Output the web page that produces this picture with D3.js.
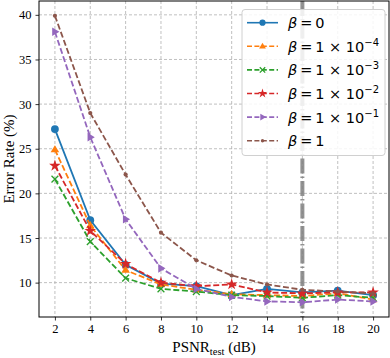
<!DOCTYPE html>
<html>
<head>
<meta charset="utf-8">
<script src="https://cdn.jsdelivr.net/npm/d3@7"></script>
<style>
  body { margin: 0; background: #fff; }
  svg text { fill: #000; }
</style>
</head>
<body>
<div id="chart"></div>
<script>
// PSNR_test values on x axis
const psnr = [2, 4, 6, 8, 10, 12, 14, 16, 18, 20];
const xTicks = [2, 4, 6, 8, 10, 12, 14, 16, 18, 20];
const yTicks = [10, 15, 20, 25, 30, 35, 40];

// error rate (%) for each beta
const beta0 = [27.2, 17.0, 12.0, 9.9, 9.6, 8.6, 9.3, 8.9, 9.1, 8.6];
const beta1e4 = [24.9, 16.4, 11.4, 9.8, 9.2, 8.7, 8.6, 8.5, 8.8, 8.1];
const beta1e3 = [21.6, 14.6, 10.5, 9.3, 9.0, 8.6, 8.5, 8.3, 8.6, 8.3];
const beta1e2 = [23.1, 15.8, 12.1, 10.0, 9.6, 9.8, 8.9, 8.8, 8.9, 8.9];
const beta1e1 = [38.1, 26.3, 17.1, 11.6, 9.3, 8.4, 7.9, 7.8, 8.1, 7.9];
const beta1 = [39.9, 29.0, 22.1, 15.6, 12.5, 10.8, 9.8, 9.2, 9.0, 8.8];

const series = [
    { values: beta0, color: '#1f77b4', marker: 'circle', dash: null, label: ['0'] },
    { values: beta1e4, color: '#ff7f0e', marker: 'triangle', dash: '6,2.6', label: ['1 × 10', '−4'] },
    { values: beta1e3, color: '#2ca02c', marker: 'x', dash: '6,2.6', label: ['1 × 10', '−3'] },
    { values: beta1e2, color: '#d62728', marker: 'star', dash: '6,2.6', label: ['1 × 10', '−2'] },
    { values: beta1e1, color: '#9467bd', marker: 'right', dash: '6,2.6', label: ['1 × 10', '−1'] },
    { values: beta1, color: '#8c564b', marker: 'dot', dash: '6,2.6', label: ['1'] },
];

const W = 390, H = 358;
const margin = { top: 1, right: 1, bottom: 41, left: 39 };
const width = W - margin.left - margin.right;
const height = H - margin.top - margin.bottom;

const svg = d3.select('#chart').append('svg')
    .attr('width', W).attr('height', H);
const g = svg.append('g')
    .attr('transform', `translate(${margin.left},${margin.top})`);

const x = d3.scaleLinear().domain([1.1, 20.9]).range([0, width]);
const y = d3.scaleLinear().domain([6.15, 41.55]).range([height, 0]);

// grid
g.append('g').selectAll('line').data(xTicks).join('line')
    .attr('x1', d => x(d)).attr('x2', d => x(d))
    .attr('y1', 0).attr('y2', height)
    .attr('stroke', '#b0b0b0').attr('stroke-width', 0.8).attr('stroke-dasharray', '3,2');
g.append('g').selectAll('line').data(yTicks).join('line')
    .attr('y1', d => y(d)).attr('y2', d => y(d))
    .attr('x1', 0).attr('x2', width)
    .attr('stroke', '#b0b0b0').attr('stroke-width', 0.8).attr('stroke-dasharray', '3,2');

// marker helpers
function drawMarker(sel, type, color, s) {
    if (type === 'circle') {
        sel.append('circle').attr('r', 3.9 * s).attr('fill', color);
    } else if (type === 'triangle') {
        const r = 4.5 * s;
        sel.append('path').attr('d', `M0,${-r}L${r * 0.95},${r * 0.6}L${-r * 0.95},${r * 0.6}Z`).attr('fill', color);
    } else if (type === 'right') {
        const r = 4.5 * s;
        sel.append('path').attr('d', `M${r},0L${-r * 0.6},${-r * 0.95}L${-r * 0.6},${r * 0.95}Z`).attr('fill', color);
    } else if (type === 'x') {
        const r = 3.4 * s;
        sel.append('path').attr('d', `M${-r},${-r}L${r},${r}M${-r},${r}L${r},${-r}`)
            .attr('stroke', color).attr('stroke-width', 1.3).attr('fill', 'none');
    } else if (type === 'star') {
        sel.append('path').attr('d', d3.symbol(d3.symbolStar, 42 * s * s)()).attr('fill', color);
    } else if (type === 'dot') {
        sel.append('circle').attr('r', 2.1 * s).attr('fill', color);
    }
}

const line = d3.line()
    .x((d, i) => x(psnr[i]))
    .y(d => y(d));

svg.append('clipPath').attr('id', 'clip')
    .append('rect').attr('width', width).attr('height', height);

const plot = g.append('g').attr('clip-path', 'url(#clip)');

// vertical dash-dot line at 16 dB
plot.append('line')
    .attr('x1', x(16)).attr('x2', x(16))
    .attr('y1', 0).attr('y2', height)
    .attr('stroke', '#808080').attr('stroke-width', 4)
    .attr('stroke-dasharray', '15,3,1.5,3')
    .attr('opacity', 0.85);

series.forEach(s => {
    plot.append('path')
        .datum(s.values)
        .attr('fill', 'none')
        .attr('stroke', s.color)
        .attr('stroke-width', 1.8)
        .attr('stroke-dasharray', s.dash)
        .attr('d', line);
    s.values.forEach((v, i) => {
        const m = plot.append('g').attr('transform', `translate(${x(psnr[i])},${y(v)})`);
        drawMarker(m, s.marker, s.color, 1);
    });
});

// axes
const xAxis = g.append('g')
    .attr('transform', `translate(0,${height})`)
    .call(d3.axisBottom(x).tickValues(xTicks).tickSize(3.5).tickPadding(4));
const yAxis = g.append('g')
    .call(d3.axisLeft(y).tickValues(yTicks).tickSize(3.5).tickPadding(4));
[xAxis, yAxis].forEach(a => {
    a.select('.domain').remove();
    a.selectAll('text').attr('font-family', 'Liberation Serif, serif').attr('font-size', 12.5);
    a.selectAll('line').attr('stroke', '#000').attr('stroke-width', 0.8);
});

g.append('rect').attr('width', width).attr('height', height)
    .attr('fill', 'none').attr('stroke', '#000').attr('stroke-width', 1);

// axis labels
svg.append('text')
    .attr('x', margin.left + width / 2).attr('y', H - 6)
    .attr('text-anchor', 'middle')
    .attr('font-family', 'Liberation Serif, serif').attr('font-size', 15)
    .call(t => {
        t.append('tspan').text('PSNR');
        t.append('tspan').attr('font-size', 10.5).attr('dy', 3).text('test');
        t.append('tspan').attr('dy', -3).text(' (dB)');
    });

svg.append('text')
    .attr('transform', `translate(14,${margin.top + height / 2}) rotate(-90)`)
    .attr('text-anchor', 'middle')
    .attr('font-family', 'Liberation Serif, serif').attr('font-size', 15)
    .text('Error Rate (%)');

// legend
const lg = svg.append('g');
lg.append('rect')
    .attr('x', 242).attr('y', 9.5).attr('width', 143).attr('height', 146).attr('rx', 3)
    .attr('fill', '#fff').attr('fill-opacity', 0.85)
    .attr('stroke', '#d0d0d0').attr('stroke-width', 1);

series.forEach((s, i) => {
    const cy = 22.7 + i * 23.6;
    lg.append('line')
        .attr('x1', 247).attr('x2', 278).attr('y1', cy).attr('y2', cy)
        .attr('stroke', s.color).attr('stroke-width', 1.6)
        .attr('stroke-dasharray', s.dash ? '5,2.4' : null);
    drawMarker(lg.append('g').attr('transform', `translate(262.5,${cy})`), s.marker, s.color, 0.8);
    const t = lg.append('text')
        .attr('x', 288).attr('y', cy + 5.5)
        .attr('font-family', 'DejaVu Sans, sans-serif').attr('font-size', 14.5);
    t.append('tspan').attr('font-style', 'italic').text('β');
    t.append('tspan').text('\u2009=\u2009' + s.label[0]);
    if (s.label[1]) {
        t.append('tspan').attr('font-size', 10).attr('dy', -6).text(s.label[1]);
    }
});
</script>
</body>
</html>
